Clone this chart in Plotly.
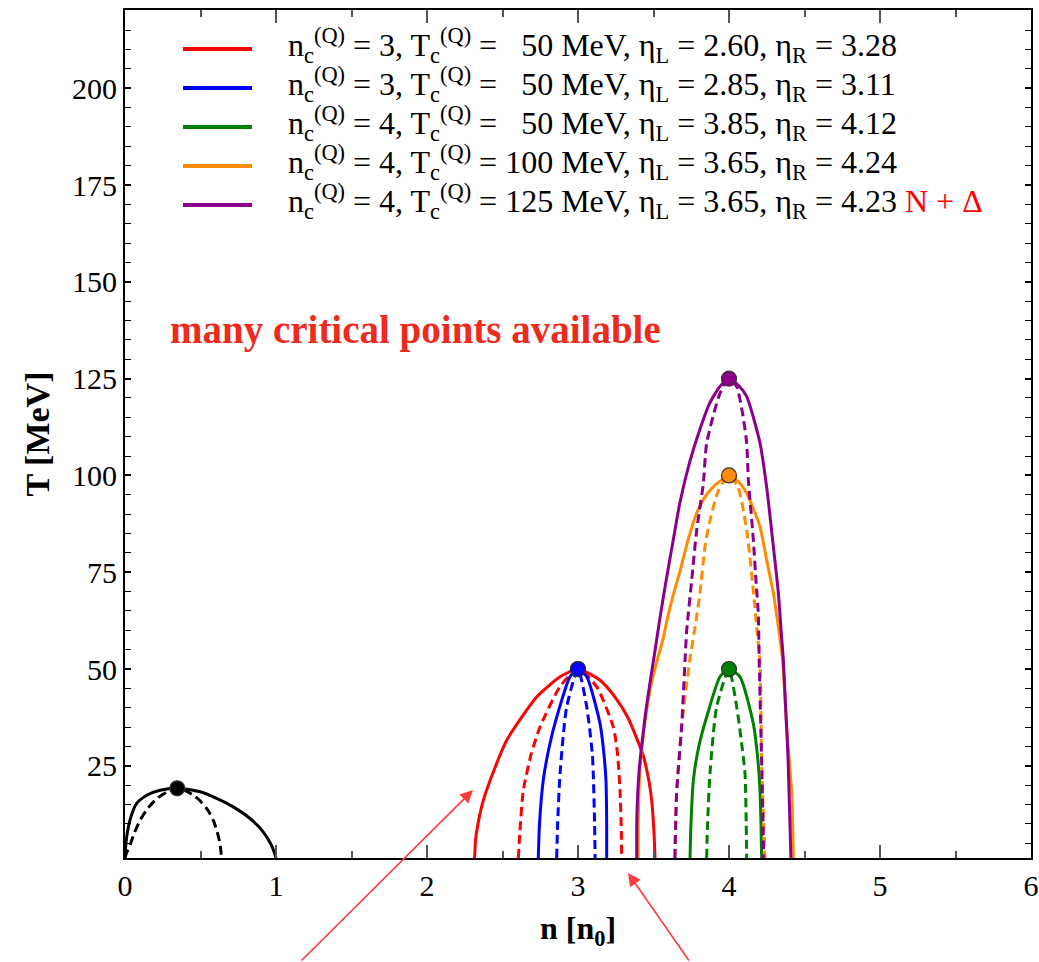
import plotly.graph_objects as go

# ---------------- data (n in units of n0, T in MeV) ----------------
# black: nuclear liquid-gas transition
black_bin_n = [0.0, 0.004, 0.011, 0.033, 0.077, 0.144, 0.232, 0.346, 0.42, 0.497, 0.607, 0.717,
               0.828, 0.916, 0.97, 0.99, 1.0]
black_bin_T = [1.2, 4.0, 6.6, 11.0, 15.3, 17.4, 18.7, 19.2, 18.9, 18.3, 16.6, 14.4,
               11.4, 7.9, 4.5, 2.5, 1.2]
black_spi_n = [0.0, 0.01, 0.033, 0.06, 0.099, 0.15, 0.21, 0.28, 0.346, 0.41, 0.46, 0.497,
               0.55, 0.585, 0.61, 0.629, 0.64]
black_spi_T = [1.2, 2.5, 4.5, 7.5, 10.9, 14.0, 16.5, 18.3, 19.2, 18.4, 17.2, 16.0,
               13.5, 10.9, 8.0, 4.9, 1.2]

red_bin_n = [2.315, 2.322, 2.345, 2.373, 2.45, 2.528, 2.626, 2.726, 2.881, 3.0,
             3.146, 3.25, 3.33, 3.40, 3.433, 3.47, 3.488, 3.503, 3.51]
red_bin_T = [1.2, 6.0, 11.5, 16.1, 24.5, 31.6, 37.5, 42.8, 48.0, 50.0,
             47.1, 42.5, 37.5, 31.0, 27.5, 21.0, 16.1, 8.0, 1.2]
red_spi_n = [2.605, 2.615, 2.638, 2.69, 2.748, 2.88, 3.0, 3.124, 3.234, 3.262, 3.278, 3.287, 3.289]
red_spi_T = [1.2, 8.0, 18.7, 28.0, 35.0, 45.4, 50.0, 45.4, 35.0, 28.0, 18.7, 8.0, 1.2]

blue_bin_n = [2.737, 2.745, 2.77, 2.81, 2.859, 2.947, 3.0, 3.058, 3.146, 3.172, 3.185, 3.19, 3.19]
blue_bin_T = [1.2, 10.0, 21.3, 30.0, 37.6, 48.0, 50.0, 48.0, 35.9, 28.0, 21.3, 10.0, 1.2]
blue_spi_n = [2.859, 2.865, 2.881, 2.925, 3.0, 3.058, 3.095, 3.101, 3.11, 3.113]
blue_spi_T = [1.2, 10.0, 23.0, 40.2, 50.0, 40.2, 28.0, 23.0, 10.0, 1.2]

green_bin_n = [3.742, 3.748, 3.764, 3.80, 3.852, 3.94, 4.0, 4.073, 4.161, 4.19, 4.205, 4.212, 4.216]
green_bin_T = [1.2, 10.0, 21.3, 30.0, 37.6, 48.0, 50.0, 48.0, 35.9, 27.0, 18.7, 10.0, 1.2]
green_spi_n = [3.852, 3.858, 3.874, 3.918, 4.0, 4.051, 4.08, 4.106, 4.114, 4.117]
green_spi_T = [1.2, 10.0, 23.0, 40.2, 50.0, 40.2, 32.0, 23.0, 10.0, 1.2]

orange_bin_n = [3.399, 3.40, 3.41, 3.43, 3.455, 3.49, 3.525, 3.565, 3.59, 3.63, 3.675, 3.73, 3.786,
                3.85, 3.918, 4.0, 4.06, 4.117, 4.205, 4.249, 4.294, 4.33, 4.355, 4.382, 4.415, 4.426]
orange_bin_T = [1.2, 12.5, 23.9, 32.0, 39.4, 47.0, 52.3, 58.0, 62.7, 69.0, 75.2, 83.5, 90.3,
                95.0, 97.8, 100.0, 98.5, 95.4, 86.8, 78.2, 69.6, 60.0, 52.3, 35.1, 17.9, 1.2]
orange_spi_n = [3.642, 3.653, 3.686, 3.74, 3.78, 3.81, 3.841, 3.874, 3.929, 4.0,
                4.06, 4.117, 4.161, 4.185, 4.205, 4.216, 4.238]
orange_spi_T = [1.2, 17.9, 35.0, 52.3, 62.0, 70.4, 81.6, 88.3, 96.0, 100.0,
                97.0, 85.9, 70.4, 60.0, 52.3, 26.3, 1.2]

purple_bin_n = [3.389, 3.39, 3.405, 3.43, 3.45, 3.475, 3.505, 3.54, 3.58, 3.631, 3.675, 3.74, 3.808,
                3.87, 3.94, 4.0, 4.062, 4.117, 4.205, 4.249, 4.29, 4.327, 4.345, 4.36, 4.375,
                4.39, 4.40, 4.41]
purple_bin_T = [1.2, 12.0, 23.9, 33.0, 39.4, 46.0, 53.5, 62.5, 72.0, 83.4, 93.0, 103.5, 112.0,
                118.5, 123.0, 125.0, 123.3, 120.4, 108.4, 97.1, 83.0, 69.6, 60.0, 52.3, 40.0,
                28.0, 15.0, 1.2]
purple_spi_n = [3.642, 3.653, 3.686, 3.709, 3.72, 3.753, 3.786, 3.83, 3.852, 3.94, 4.0,
                4.05, 4.09, 4.117, 4.128, 4.16, 4.18, 4.194, 4.20, 4.216, 4.23]
purple_spi_T = [1.2, 17.9, 35.0, 52.3, 60.0, 72.9, 85.9, 97.9, 108.3, 121.2, 125.0,
                123.0, 116.0, 108.4, 99.0, 84.0, 72.0, 64.4, 52.3, 26.3, 1.2]

# critical points
crit_n = [0.346, 3.0, 3.0, 4.0, 4.0, 4.0]
crit_T = [19.2, 50.0, 50.0, 50.0, 100.0, 125.0]

colors = ["#000000", "#ff0000", "#0000ff", "#008000", "#ff8c00", "#8b008b"]

legend_labels = [
    "n<sub>c</sub><sup>(Q)</sup> = 3, T<sub>c</sub><sup>(Q)</sup> =\u00a0\u00a0\u00a050 MeV, \u03b7<sub>L</sub> = 2.60, \u03b7<sub>R</sub> = 3.28",
    "n<sub>c</sub><sup>(Q)</sup> = 3, T<sub>c</sub><sup>(Q)</sup> =\u00a0\u00a0\u00a050 MeV, \u03b7<sub>L</sub> = 2.85, \u03b7<sub>R</sub> = 3.11",
    "n<sub>c</sub><sup>(Q)</sup> = 4, T<sub>c</sub><sup>(Q)</sup> =\u00a0\u00a0\u00a050 MeV, \u03b7<sub>L</sub> = 3.85, \u03b7<sub>R</sub> = 4.12",
    "n<sub>c</sub><sup>(Q)</sup> = 4, T<sub>c</sub><sup>(Q)</sup> = 100 MeV, \u03b7<sub>L</sub> = 3.65, \u03b7<sub>R</sub> = 4.24",
    "n<sub>c</sub><sup>(Q)</sup> = 4, T<sub>c</sub><sup>(Q)</sup> = 125 MeV, \u03b7<sub>L</sub> = 3.65, \u03b7<sub>R</sub> = 4.23",
]
extra_label = "N + \u0394"
note_text = "many critical points available"

x_ticks = [0, 1, 2, 3, 4, 5, 6]
y_ticks = [25, 50, 75, 100, 125, 150, 175, 200]

# ---------------- figure ----------------
FONT = "Liberation Serif"
fig = go.Figure()

series = [
    (black_bin_n, black_bin_T, black_spi_n, black_spi_T),
    (red_bin_n, red_bin_T, red_spi_n, red_spi_T),
    (blue_bin_n, blue_bin_T, blue_spi_n, blue_spi_T),
    (green_bin_n, green_bin_T, green_spi_n, green_spi_T),
    (orange_bin_n, orange_bin_T, orange_spi_n, orange_spi_T),
    (purple_bin_n, purple_bin_T, purple_spi_n, purple_spi_T),
]

for i, (bn, bT, sn, sT) in enumerate(series):
    c = colors[i]
    fig.add_trace(go.Scatter(x=sn, y=sT, mode="lines", showlegend=False,
                             line=dict(color=c, width=3, dash="9px,5px", shape="spline", smoothing=0.6),
                             hoverinfo="skip", cliponaxis=True))
    fig.add_trace(go.Scatter(x=bn, y=bT, mode="lines", showlegend=False,
                             line=dict(color=c, width=3, shape="spline", smoothing=0.6),
                             hoverinfo="skip", cliponaxis=True))
    fig.add_trace(go.Scatter(x=[crit_n[i]], y=[crit_T[i]], mode="markers", showlegend=False,
                             marker=dict(color=c, size=15, line=dict(color="#333333", width=1.2)),
                             hoverinfo="skip", cliponaxis=False))

# plot area geometry in pixels
L, R, T, B = 125, 1031, 10, 858
W, H = 1039, 962


def px_to_paper(px, py):
    return (px - L) / (R - L), (B - py) / (B - T)


shapes = []
annotations = []
row_y = [49, 88, 127, 166, 205]
for k, lab in enumerate(legend_labels):
    x0, yy = px_to_paper(183, row_y[k])
    x1, _ = px_to_paper(252, row_y[k])
    shapes.append(dict(type="line", xref="paper", yref="paper", x0=x0, x1=x1, y0=yy, y1=yy,
                       line=dict(color=colors[k + 1], width=4)))
    txt = lab
    if k == len(legend_labels) - 1:
        txt += " <span style='color:#ff0000'>" + extra_label + "</span>"
    tx, _ = px_to_paper(286, row_y[k])
    annotations.append(dict(xref="paper", yref="paper", x=tx, y=yy + 0.004, xanchor="left",
                            yanchor="middle", text=txt, showarrow=False,
                            font=dict(family=FONT, size=32, color="black")))

nx, ny = px_to_paper(415, 330)
annotations.append(dict(xref="paper", yref="paper", x=nx, y=ny, xanchor="center", yanchor="middle",
                        text="<b>" + note_text + "</b>", showarrow=False,
                        font=dict(family=FONT, size=39, color="#ee2a1c")))

# arrows
for tip, tail in [((473, 790), (300, 975)), ((628, 873), (690, 975))]:
    ax_, ay_ = px_to_paper(*tip)
    annotations.append(dict(xref="paper", yref="paper", x=ax_, y=ay_, text="", showarrow=True,
                            arrowhead=2, arrowsize=1.6, arrowwidth=1.6, arrowcolor="#ff3b3b",
                            ax=tail[0] - tip[0], ay=tail[1] - tip[1], standoff=0))

fig.update_layout(
    width=W, height=H,
    margin=dict(l=L, r=W - R, t=T, b=H - B, autoexpand=False),
    paper_bgcolor="white", plot_bgcolor="white",
    shapes=shapes, annotations=annotations,
    showlegend=False,
    font=dict(family=FONT, color="black"),
)
fig.update_xaxes(
    range=[0, 6], tickvals=x_ticks, ticktext=[str(v) for v in x_ticks],
    automargin=False,
    showgrid=False, zeroline=False, showline=True, linecolor="black", linewidth=2,
    mirror="allticks", ticks="inside", ticklen=13, tickwidth=1.5, tickcolor="#555555",
    minor=dict(dtick=0.5, tick0=0, ticks="inside", ticklen=7, tickwidth=1.5, tickcolor="#555555"),
    tickfont=dict(family=FONT, size=30, color="black"),
    title=dict(text="<b>n [n<sub>0</sub>]</b>", font=dict(family=FONT, size=32, color="black"),
               standoff=16),
)
fig.update_yaxes(
    range=[1.2, 220.2], tickvals=y_ticks, ticktext=[str(v) for v in y_ticks],
    automargin=False,
    showgrid=False, zeroline=False, showline=True, linecolor="black", linewidth=2,
    mirror="allticks", ticks="inside", ticklen=6, tickwidth=1.5, tickcolor="black",
    minor=dict(dtick=5, tick0=0, ticks="inside", ticklen=6, tickwidth=1.2, tickcolor="black"),
    tickfont=dict(family=FONT, size=30, color="black"),
    title=dict(text="<b>T [MeV]</b>", font=dict(family=FONT, size=34, color="black"),
               standoff=12),
)

fig.write_html("out.html")
